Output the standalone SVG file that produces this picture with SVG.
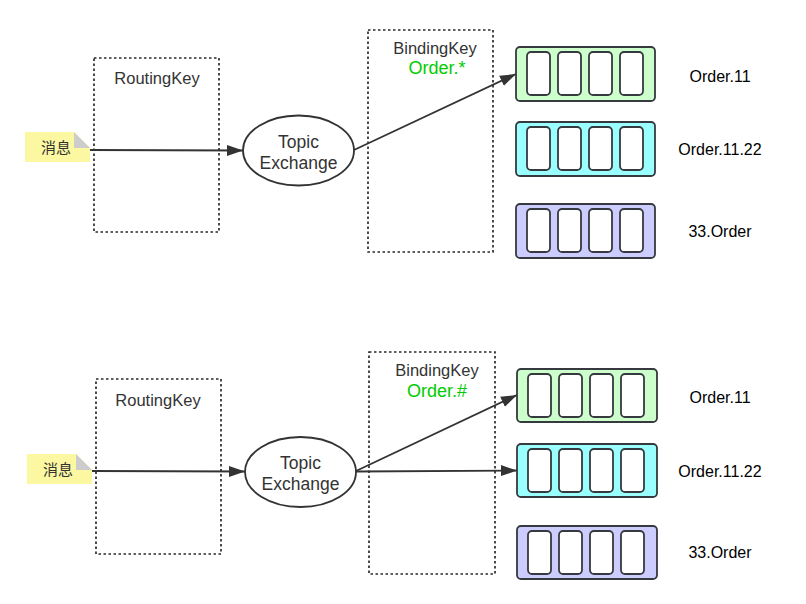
<svg xmlns="http://www.w3.org/2000/svg" width="806" height="604" viewBox="0 0 806 604">
<style>
.bg{fill:#ffffff}
.dash{fill:none;stroke:#2b2b2b;stroke-width:1.7;stroke-dasharray:2.5 2.5}
.lbl{font-family:"Liberation Sans",Arial,sans-serif;font-size:16.5px;fill:#333333;text-anchor:middle}
.key{font-family:"Liberation Sans",Arial,sans-serif;font-size:18px;fill:#00cc00;text-anchor:middle}
.qlbl{font-family:"Liberation Sans",Arial,sans-serif;font-size:16px;fill:#000000;text-anchor:middle}
.ex{fill:#ffffff;stroke:#333333;stroke-width:1.8}
.extxt{font-family:"Liberation Sans",Arial,sans-serif;font-size:17.5px;fill:#333333;text-anchor:middle}
.note{fill:#fbf8a1;stroke:none}
.fold{fill:#cccccc}
.msg{font-family:"Noto Sans CJK SC","Liberation Sans",sans-serif;font-size:15px;fill:#333333;text-anchor:middle}
.q{stroke:#36393d;stroke-width:1.8}
.q1{fill:#ccffcc}
.q2{fill:#99ffff}
.q3{fill:#ccccff}
.cell{fill:#ffffff;stroke:#36393d;stroke-width:1.8}
.conn{fill:none;stroke:#333333;stroke-width:1.8}
</style>
<defs>
<marker id="arr" markerUnits="userSpaceOnUse" markerWidth="18" markerHeight="12" refX="16" refY="6" orient="auto">
<path d="M0,0.5 L16,6 L0,11.5 Z" fill="#333333"/>
</marker>
<g id="cells">
<rect class="cell" x="11" y="5" width="23" height="43" rx="4"/>
<rect class="cell" x="42" y="5" width="23" height="43" rx="4"/>
<rect class="cell" x="73" y="5" width="23" height="43" rx="4"/>
<rect class="cell" x="104" y="5" width="23" height="43" rx="4"/>
</g>
</defs>
<rect class="bg" x="0" y="0" width="806" height="604"/>

<!-- top section -->
<g id="routing1">
<rect class="dash" x="94" y="58" width="125" height="174"/>
<text class="lbl" x="157" y="84">RoutingKey</text>
</g>
<g id="binding1">
<rect class="dash" x="368" y="30" width="125" height="222"/>
<text class="lbl" x="435" y="54">BindingKey</text>
<text class="key" x="437" y="74">Order.*</text>
</g>
<g id="msg1">
<path class="note" d="M25,132 L74,132 L90,148 L90,162 L25,162 Z"/>
<path class="fold" d="M74,132 L74,148 L90,148 Z"/>
<text class="msg" x="56" y="153">消息</text>
</g>
<g id="exchange1">
<ellipse class="ex" cx="298.5" cy="150.5" rx="55.5" ry="35"/>
<text class="extxt" x="298.5" y="148">Topic</text>
<text class="extxt" x="298.5" y="169">Exchange</text>
</g>
<g id="queue1a">
<rect class="q q1" x="516" y="47" width="139" height="54" rx="4"/>
<use href="#cells" x="516" y="47"/>
<text class="qlbl" x="720" y="82">Order.11</text>
</g>
<g id="queue1b">
<rect class="q q2" x="516" y="122" width="139" height="54" rx="4"/>
<use href="#cells" x="516" y="122"/>
<text class="qlbl" x="720" y="155">Order.11.22</text>
</g>
<g id="queue1c">
<rect class="q q3" x="516" y="204" width="139" height="54" rx="4"/>
<use href="#cells" x="516" y="204"/>
<text class="qlbl" x="720" y="237">33.Order</text>
</g>

<!-- bottom section -->
<g id="routing2">
<rect class="dash" x="96" y="379" width="125" height="175"/>
<text class="lbl" x="158" y="406">RoutingKey</text>
</g>
<g id="binding2">
<rect class="dash" x="369" y="352" width="126" height="222"/>
<text class="lbl" x="437" y="376">BindingKey</text>
<text class="key" x="437" y="397">Order.#</text>
</g>
<g id="msg2">
<path class="note" d="M27,454 L76,454 L92,470 L92,484 L27,484 Z"/>
<path class="fold" d="M76,454 L76,470 L92,470 Z"/>
<text class="msg" x="58" y="475">消息</text>
</g>
<g id="exchange2">
<ellipse class="ex" cx="300.5" cy="472" rx="55.5" ry="35"/>
<text class="extxt" x="300.5" y="469">Topic</text>
<text class="extxt" x="300.5" y="490">Exchange</text>
</g>
<g id="queue2a">
<rect class="q q1" x="517" y="369" width="140" height="53" rx="4"/>
<use href="#cells" x="517" y="369"/>
<text class="qlbl" x="720" y="403">Order.11</text>
</g>
<g id="queue2b">
<rect class="q q2" x="517" y="444" width="140" height="53" rx="4"/>
<use href="#cells" x="517" y="444"/>
<text class="qlbl" x="720" y="477">Order.11.22</text>
</g>
<g id="queue2c">
<rect class="q q3" x="517" y="526" width="140" height="53" rx="4"/>
<use href="#cells" x="517" y="526"/>
<text class="qlbl" x="720" y="558">33.Order</text>
</g>

<g id="connectors">
<line class="conn" x1="90" y1="150" x2="243" y2="150.5" marker-end="url(#arr)"/>
<line class="conn" x1="354" y1="150" x2="516" y2="74" marker-end="url(#arr)"/>
<line class="conn" x1="92" y1="471" x2="245" y2="471.5" marker-end="url(#arr)"/>
<line class="conn" x1="356" y1="471" x2="517" y2="395" marker-end="url(#arr)"/>
<line class="conn" x1="356" y1="471.5" x2="517" y2="470.5" marker-end="url(#arr)"/>
</g>
</svg>
